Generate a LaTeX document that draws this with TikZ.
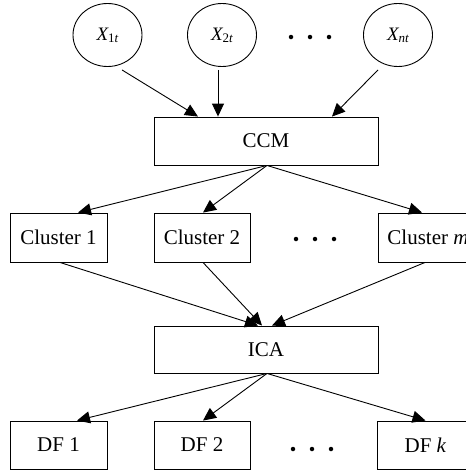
\documentclass[tikz,border=0pt]{standalone}
\usepackage{fontspec}
\setmainfont{Liberation Serif}
\usetikzlibrary{arrows.meta,shapes.geometric}
\tikzset{
  box/.style={draw, line width=0.9pt, rectangle, inner sep=0pt, minimum height=48, font=\fontsize{21}{24}\selectfont},
  ell/.style={draw, line width=0.9pt, ellipse, inner sep=0pt, minimum width=69, minimum height=63},
  arr/.style={line width=0.9pt, -{Triangle[length=13pt,width=12pt]}},
  dotc/.style={fill=black, circle, inner sep=0pt, minimum size=4.5}
}
\newcommand{\xlab}[2]{{\fontsize{19}{20}\selectfont\itshape X}\raisebox{-0.45ex}{\fontsize{13}{13}\selectfont #1\itshape #2}}
\begin{document}
\begin{tikzpicture}[x=1pt,y=-1pt]
\useasboundingbox (0,0) rectangle (466,472);
\clip (0,0) rectangle (466,472);
\fill[white] (0,0) rectangle (466,472);
% inputs
\node[ell] (x1) at (107.5,35) {\xlab{1}{t}};
\node[ell] (x2) at (222,35) {\xlab{2}{t}};
\node[ell] (xn) at (398,35) {\xlab{}{nt}};
\node[dotc] (d1a) at (291,37) {};
\node[dotc] (d1b) at (310,37) {};
\node[dotc] (d1c) at (329,37) {};
% CCM
\node[box, minimum width=224] (ccm) at (266,141) {CCM};
% clusters
\node[box, minimum width=97, minimum height=49] (c1) at (58.5,237.5) {Cluster 1};
\node[box, minimum width=96, minimum height=49] (c2) at (202,237.5) {Cluster 2};
\node[box, minimum width=100, minimum height=49] (cm) at (428,237.5) {Cluster \textit{m}};
\node[dotc] (d2a) at (296,239) {};
\node[dotc] (d2b) at (315,239) {};
\node[dotc] (d2c) at (334,239) {};
% ICA
\node[box, minimum width=224, minimum height=47] (ica) at (266,349.5) {ICA};
% DF
\node[box, minimum width=97] (f1) at (58.5,445) {DF 1};
\node[box, minimum width=96] (f2) at (202,445) {DF 2};
\node[box, minimum width=97] (fk) at (425.5,445) {DF \textit{k}};
\node[dotc] (d3a) at (293,449) {};
\node[dotc] (d3b) at (312,449) {};
\node[dotc] (d3c) at (331,449) {};
% arrows
\draw[arr] ([shift={(14.5,3)}]x1.south) -- ([shift={(-68,0)}]ccm.north);
\draw[arr] ([shift={(-4,3)}]x2.south) -- ([shift={(-48,0)}]ccm.north);
\draw[arr] ([shift={(-20,3)}]xn.south) -- ([shift={(66,0)}]ccm.north);
\draw[arr] ([shift={(1,0)}]ccm.south) -- ([shift={(19.5,0)}]c1.north);
\draw[arr] ([shift={(1,0)}]ccm.south) -- ([shift={(1,0)}]c2.north);
\draw[arr] ([shift={(1,0)}]ccm.south) -- ([shift={(-6,0)}]cm.north);
\draw[arr] ([shift={(1.5,0)}]c1.south) -- ([shift={(-8,0)}]ica.north);
\draw[arr] ([shift={(1,0)}]c2.south) -- ([shift={(-4,0)}]ica.north);
\draw[arr] ([shift={(-3,0)}]cm.south) -- ([shift={(6,0)}]ica.north);
\draw[arr] ([shift={(1,0)}]ica.south) -- ([shift={(18.5,0)}]f1.north);
\draw[arr] ([shift={(1,0)}]ica.south) -- ([shift={(1,0)}]f2.north);
\draw[arr] ([shift={(1,0)}]ica.south) -- (fk.north);
\end{tikzpicture}
\end{document}
